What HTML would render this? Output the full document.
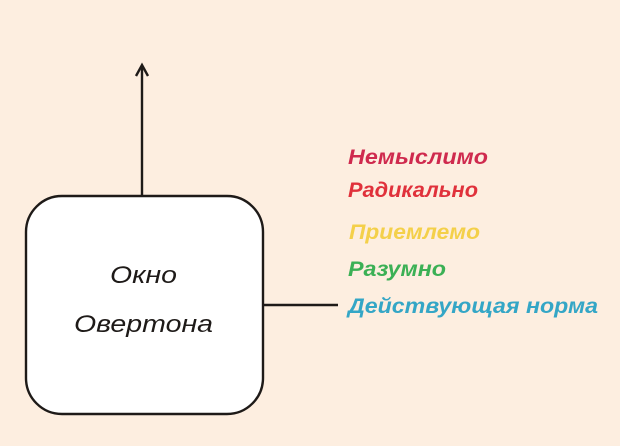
<!DOCTYPE html>
<html><head><meta charset="utf-8"><style>
html,body{margin:0;padding:0;background:#fdeee0;}
svg{display:block}
</style></head><body>
<svg width="620" height="446" viewBox="0 0 620 446" xmlns="http://www.w3.org/2000/svg">
<rect width="620" height="446" fill="#fdeee0"/>
<rect x="26" y="196" width="237" height="218" rx="36" ry="36" fill="#ffffff" stroke="#1e1a18" stroke-width="2.4"/>
<line x1="142" y1="196" x2="142" y2="66" stroke="#1e1a18" stroke-width="2.4"/>
<polyline points="136,76 142,65 148,76" fill="none" stroke="#1e1a18" stroke-width="2.4"/>
<line x1="263" y1="305" x2="338" y2="305" stroke="#1e1a18" stroke-width="2.4"/>
<g font-family="Liberation Sans, sans-serif" font-style="italic" font-size="24" fill="#1e1a18">
<text x="110" y="283" textLength="67" lengthAdjust="spacingAndGlyphs">Окно</text>
<text x="74" y="332" textLength="139" lengthAdjust="spacingAndGlyphs">Овертона</text>
</g>
<g font-family="Liberation Sans, sans-serif" font-style="italic" font-weight="bold" font-size="21">
<text x="348" y="164" fill="#cf2a4e" textLength="140" lengthAdjust="spacingAndGlyphs">Немыслимо</text>
<text x="348" y="197" fill="#e0313b" textLength="130" lengthAdjust="spacingAndGlyphs">Радикально</text>
<text x="349" y="239" fill="#f4d04a" textLength="131" lengthAdjust="spacingAndGlyphs">Приемлемо</text>
<text x="348" y="276" fill="#3bb055" textLength="98" lengthAdjust="spacingAndGlyphs">Разумно</text>
<text x="348" y="313" fill="#34a6c6" textLength="250" lengthAdjust="spacingAndGlyphs">Действующая норма</text>
</g>
</svg>
</body></html>
